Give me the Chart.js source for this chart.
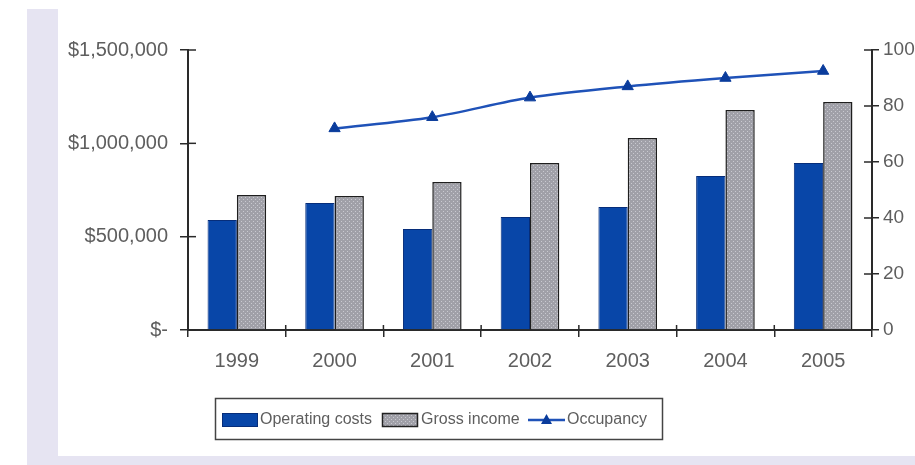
<!DOCTYPE html>
<html>
<head>
<meta charset="utf-8">
<script src="https://cdn.jsdelivr.net/npm/chart.js@4.4.1/dist/chart.umd.min.js"></script>
<style>
  html, body { margin: 0; padding: 0; background: #ffffff; }
  #wrap { position: relative; width: 915px; height: 465px; overflow: hidden; }
  .frame { position: absolute; background: #e6e4f2; }
  canvas { position: absolute; left: 0; top: 0; }
</style>
</head>
<body>
<div id="wrap">
  <div class="frame" style="left:27px; top:9px; width:31px; height:456px;"></div>
  <div class="frame" style="left:27px; top:456px; width:888px; height:9px;"></div>
  <canvas id="c" width="915" height="465"></canvas>
</div>
<script>
// ---- Data ----
const years = ['1999', '2000', '2001', '2002', '2003', '2004', '2005'];
const operatingCosts = [589000, 680000, 541000, 605000, 659000, 825000, 895000];
const grossIncome = [723000, 718000, 793000, 895000, 1029000, 1179000, 1221000];
const occupancy = [null, 72, 76, 83, 87, 90, 92.5];
const seriesNames = ['Operating costs', 'Gross income', 'Occupancy'];
const leftTicks = [0, 500000, 1000000, 1500000];
const rightTicks = [0, 20, 40, 60, 80, 100];

// ---- Styles ----
const FONT = '"Liberation Sans", Arial, sans-serif';
const TEXT = '#5e5e5e';
const AXIS = '#2a2a2a';
const BLUE = '#0846a8';
const LINE_BLUE = '#1f52b8';

function makePattern() {
  const p = document.createElement('canvas');
  p.width = 4; p.height = 4;
  const g = p.getContext('2d');
  g.fillStyle = '#a0a0a8';
  g.fillRect(0, 0, 4, 4);
  g.fillStyle = '#c9c9d0';
  g.fillRect(1, 1, 1, 1);
  g.fillRect(3, 3, 1, 1);
  return g.createPattern(p, 'repeat');
}
const grayPattern = makePattern();

function fmtMoney(v) {
  if (v === 0) return '$-';
  return '$' + v.toLocaleString('en-US');
}

const crossTicks = {
  id: 'crossTicks',
  afterDraw(chart) {
    const ctx = chart.ctx;
    const a = chart.chartArea;
    ctx.save();
    ctx.strokeStyle = AXIS;
    ctx.lineWidth = 1.5;
    const y = chart.scales.y, y1 = chart.scales.y1, x = chart.scales.x;
    y.ticks.forEach((t, i) => {
      const py = y.getPixelForTick(i);
      ctx.beginPath(); ctx.moveTo(a.left, py); ctx.lineTo(a.left + 8, py); ctx.stroke();
    });
    y1.ticks.forEach((t, i) => {
      const py = y1.getPixelForTick(i);
      ctx.beginPath(); ctx.moveTo(a.right - 8, py); ctx.lineTo(a.right, py); ctx.stroke();
    });
    for (let i = 1; i < years.length; i++) {
      const px = (x.getPixelForValue(i - 1) + x.getPixelForValue(i)) / 2;
      ctx.beginPath(); ctx.moveTo(px, a.bottom - 5); ctx.lineTo(px, a.bottom); ctx.stroke();
    }
    ctx.restore();
  }
};

const boxLegend = {
  id: 'boxLegend',
  afterDraw(chart) {
    const ctx = chart.ctx;
    const ds = chart.data.datasets;
    ctx.save();
    ctx.fillStyle = '#ffffff';
    ctx.fillRect(215, 398, 448, 42);
    ctx.strokeStyle = '#444';
    ctx.lineWidth = 1.5;
    ctx.strokeRect(215.5, 398.5, 447, 41);
    const cy = 420;
    ctx.font = '16px ' + FONT;
    ctx.textBaseline = 'middle';
    ctx.textAlign = 'left';
    // Operating costs
    ctx.fillStyle = ds[0].backgroundColor;
    ctx.fillRect(222, 413, 36, 14);
    ctx.strokeStyle = '#062d7a'; ctx.lineWidth = 1;
    ctx.strokeRect(222.5, 413.5, 35, 13);
    ctx.fillStyle = TEXT;
    ctx.fillText(ds[0].label, 260, cy);
    // Gross income
    ctx.fillStyle = ds[1].backgroundColor;
    ctx.fillRect(382, 413, 36, 14);
    ctx.strokeStyle = '#222'; ctx.lineWidth = 1.5;
    ctx.strokeRect(382.5, 413.5, 35, 13);
    ctx.fillStyle = TEXT;
    ctx.fillText(ds[1].label, 421, cy);
    // Occupancy
    ctx.strokeStyle = LINE_BLUE; ctx.lineWidth = 2.5;
    ctx.beginPath(); ctx.moveTo(528, cy); ctx.lineTo(565, cy); ctx.stroke();
    ctx.fillStyle = '#0a3c9c';
    ctx.beginPath(); ctx.moveTo(546.5, cy - 6); ctx.lineTo(552, cy + 4); ctx.lineTo(541, cy + 4); ctx.closePath(); ctx.fill();
    ctx.fillStyle = TEXT;
    ctx.fillText(ds[2].label, 567, cy);
    ctx.restore();
  }
};

new Chart(document.getElementById('c'), {
  data: {
    labels: years,
    datasets: [
      {
        type: 'bar', label: seriesNames[0], data: operatingCosts, yAxisID: 'y',
        backgroundColor: BLUE, borderColor: '#062d7a', borderWidth: 1,
        categoryPercentage: 0.6, barPercentage: 1.0, order: 2
      },
      {
        type: 'bar', label: seriesNames[1], data: grossIncome, yAxisID: 'y',
        backgroundColor: grayPattern, borderColor: '#1e1e1e', borderWidth: 1.5,
        categoryPercentage: 0.6, barPercentage: 1.0, order: 2
      },
      {
        type: 'line', label: seriesNames[2], data: occupancy, yAxisID: 'y1',
        borderColor: LINE_BLUE, borderWidth: 2.5, tension: 0.3,
        pointStyle: 'triangle', pointRadius: 6.5, pointBackgroundColor: '#0a3c9c',
        pointBorderColor: '#0a3c9c', pointBorderWidth: 1, fill: false, order: 0
      }
    ]
  },
  options: {
    responsive: false,
    animation: false,
    layout: { padding: { left: 58, top: 50, right: 0, bottom: 85 } },
    plugins: { legend: { display: false }, tooltip: { enabled: false } },
    scales: {
      x: {
        grid: { display: true, drawOnChartArea: false, drawTicks: true, tickLength: 7, color: AXIS, lineWidth: 1.5 },
        border: { display: true, color: AXIS, width: 2 },
        ticks: { color: TEXT, font: { family: FONT, size: 20 }, padding: 12, maxRotation: 0 },
        afterFit(s) { s.height = 50; }
      },
      y: {
        position: 'left', min: 0, max: 1500000,
        afterBuildTicks(s) { s.ticks = leftTicks.map(v => ({ value: v })); },
        grid: { display: true, drawOnChartArea: false, drawTicks: true, tickLength: 8, color: AXIS, lineWidth: 1.5 },
        border: { display: true, color: AXIS, width: 2 },
        ticks: { color: TEXT, font: { family: FONT, size: 20 }, padding: 12, callback: v => fmtMoney(v) },
        afterFit(s) { s.width = 130; }
      },
      y1: {
        position: 'right', min: 0, max: 100,
        afterBuildTicks(s) { s.ticks = rightTicks.map(v => ({ value: v })); },
        grid: { display: true, drawOnChartArea: false, drawTicks: true, tickLength: 7, color: AXIS, lineWidth: 1.5 },
        border: { display: true, color: AXIS, width: 2 },
        ticks: { color: TEXT, font: { family: FONT, size: 19 }, padding: 4 },
        afterFit(s) { s.width = 43; }
      }
    }
  },
  plugins: [crossTicks, boxLegend]
});
</script>
</body>
</html>
